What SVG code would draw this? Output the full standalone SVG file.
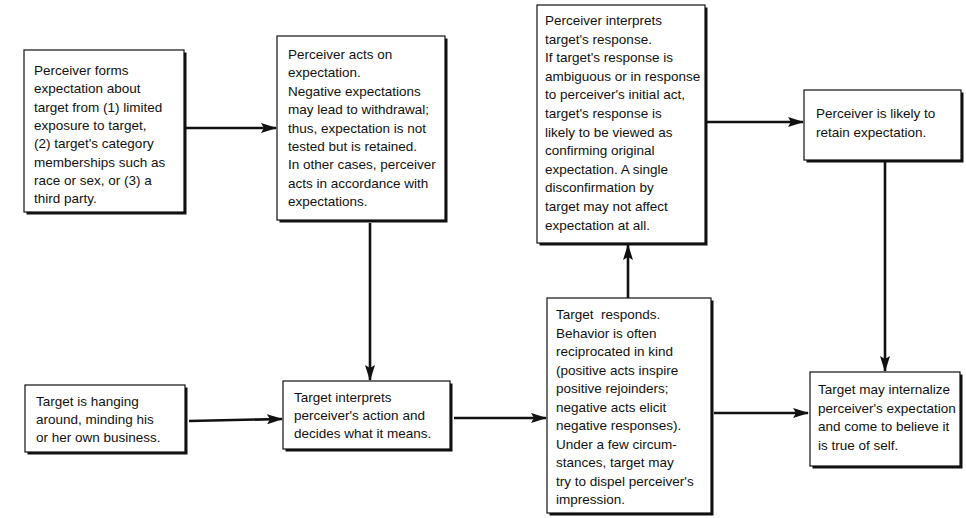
<svg xmlns="http://www.w3.org/2000/svg" width="966" height="518" viewBox="0 0 966 518">
<defs>
<style>
.sh{fill:#111;}
.bx{fill:#fff;stroke:#111;stroke-width:1.2;}
.t{font-family:"Liberation Sans",Arial,sans-serif;font-size:13.5px;fill:#111;}
.c{stroke:#111;stroke-width:2.6;fill:none;}
</style>
<marker id="ah" viewBox="0 0 16 10" refX="15" refY="5" markerWidth="16" markerHeight="10" markerUnits="userSpaceOnUse" orient="auto">
<path d="M0,0 L16,5 L0,10 L3,5 z" fill="#111"/>
</marker>
</defs>
<rect width="966" height="518" fill="#fff"/>

<g id="connectors">
<line class="c" x1="186" y1="128" x2="276" y2="128" marker-end="url(#ah)"/>
<line class="c" x1="370" y1="223" x2="370" y2="380" marker-end="url(#ah)"/>
<line class="c" x1="189" y1="421" x2="282" y2="419" marker-end="url(#ah)"/>
<line class="c" x1="454" y1="418" x2="546" y2="418" marker-end="url(#ah)"/>
<line class="c" x1="628" y1="298" x2="628" y2="245" marker-end="url(#ah)"/>
<line class="c" x1="707" y1="122" x2="803" y2="122" marker-end="url(#ah)"/>
<line class="c" x1="885" y1="162" x2="885" y2="371" marker-end="url(#ah)"/>
<line class="c" x1="714" y1="413" x2="808" y2="413" marker-end="url(#ah)"/>
</g>

<g id="n1">
<rect class="sh" x="26.5" y="52.5" width="160" height="162"/>
<rect class="bx" x="24" y="50" width="160" height="162"/>
<text class="t"><tspan x="34" y="75">Perceiver forms</tspan><tspan x="34" y="93.3">expectation about</tspan><tspan x="34" y="111.6">target from (1) limited</tspan><tspan x="34" y="129.9">exposure to target,</tspan><tspan x="34" y="148.2">(2) target's category</tspan><tspan x="34" y="166.5">memberships such as</tspan><tspan x="34" y="184.8">race or sex, or (3) a</tspan><tspan x="34" y="203.1">third party.</tspan></text>
</g>

<g id="n2">
<rect class="sh" x="279.5" y="38.5" width="168" height="184"/>
<rect class="bx" x="277" y="36" width="168" height="184"/>
<text class="t"><tspan x="288" y="59">Perceiver acts on</tspan><tspan x="288" y="77.4">expectation.</tspan><tspan x="288" y="95.8">Negative expectations</tspan><tspan x="288" y="114.2">may lead to withdrawal;</tspan><tspan x="288" y="132.6">thus, expectation is not</tspan><tspan x="288" y="151">tested but is retained.</tspan><tspan x="288" y="169.4">In other cases, perceiver</tspan><tspan x="288" y="187.8">acts in accordance with</tspan><tspan x="288" y="206.2">expectations.</tspan></text>
</g>

<g id="n3">
<rect class="sh" x="539.5" y="7.5" width="168" height="238"/>
<rect class="bx" x="537" y="5" width="168" height="238"/>
<text class="t"><tspan x="545" y="25">Perceiver interprets</tspan><tspan x="545" y="43.6">target's response.</tspan><tspan x="545" y="62.2">If target's response is</tspan><tspan x="545" y="80.8">ambiguous or in response</tspan><tspan x="545" y="99.4">to perceiver's initial act,</tspan><tspan x="545" y="118">target's response is</tspan><tspan x="545" y="136.6">likely to be viewed as</tspan><tspan x="545" y="155.2">confirming original</tspan><tspan x="545" y="173.8">expectation. A single</tspan><tspan x="545" y="192.4">disconfirmation by</tspan><tspan x="545" y="211">target may not affect</tspan><tspan x="545" y="229.6">expectation at all.</tspan></text>
</g>

<g id="n4">
<rect class="sh" x="806.5" y="92.5" width="157" height="70"/>
<rect class="bx" x="804" y="90" width="157" height="70"/>
<text class="t"><tspan x="816" y="118">Perceiver is likely to</tspan><tspan x="816" y="136.5">retain expectation.</tspan></text>
</g>

<g id="n5">
<rect class="sh" x="27.5" y="387.5" width="160" height="67"/>
<rect class="bx" x="25" y="385" width="160" height="67"/>
<text class="t"><tspan x="36" y="406">Target is hanging</tspan><tspan x="36" y="424">around, minding his</tspan><tspan x="36" y="442">or her own business.</tspan></text>
</g>

<g id="n6">
<rect class="sh" x="285.5" y="383.5" width="167" height="68"/>
<rect class="bx" x="283" y="381" width="167" height="68"/>
<text class="t"><tspan x="294" y="402">Target interprets</tspan><tspan x="294" y="420">perceiver's action and</tspan><tspan x="294" y="438">decides what it means.</tspan></text>
</g>

<g id="n7">
<rect class="sh" x="549.5" y="300.5" width="164" height="215"/>
<rect class="bx" x="547" y="298" width="164" height="215"/>
<text class="t" xml:space="preserve"><tspan x="556" y="319">Target  responds.</tspan><tspan x="556" y="337.5">Behavior is often</tspan><tspan x="556" y="356">reciprocated in kind</tspan><tspan x="556" y="374.5">(positive acts inspire</tspan><tspan x="556" y="393">positive rejoinders;</tspan><tspan x="556" y="411.5">negative acts elicit</tspan><tspan x="556" y="430">negative responses).</tspan><tspan x="556" y="448.5">Under a few circum-</tspan><tspan x="556" y="467">stances, target may</tspan><tspan x="556" y="485.5">try to dispel perceiver's</tspan><tspan x="556" y="504">impression.</tspan></text>
</g>

<g id="n8">
<rect class="sh" x="812.5" y="374.5" width="150" height="94"/>
<rect class="bx" x="810" y="372" width="150" height="94"/>
<text class="t"><tspan x="818" y="394">Target may internalize</tspan><tspan x="818" y="412.5">perceiver's expectation</tspan><tspan x="818" y="431">and come to believe it</tspan><tspan x="818" y="449.5">is true of self.</tspan></text>
</g>
</svg>
